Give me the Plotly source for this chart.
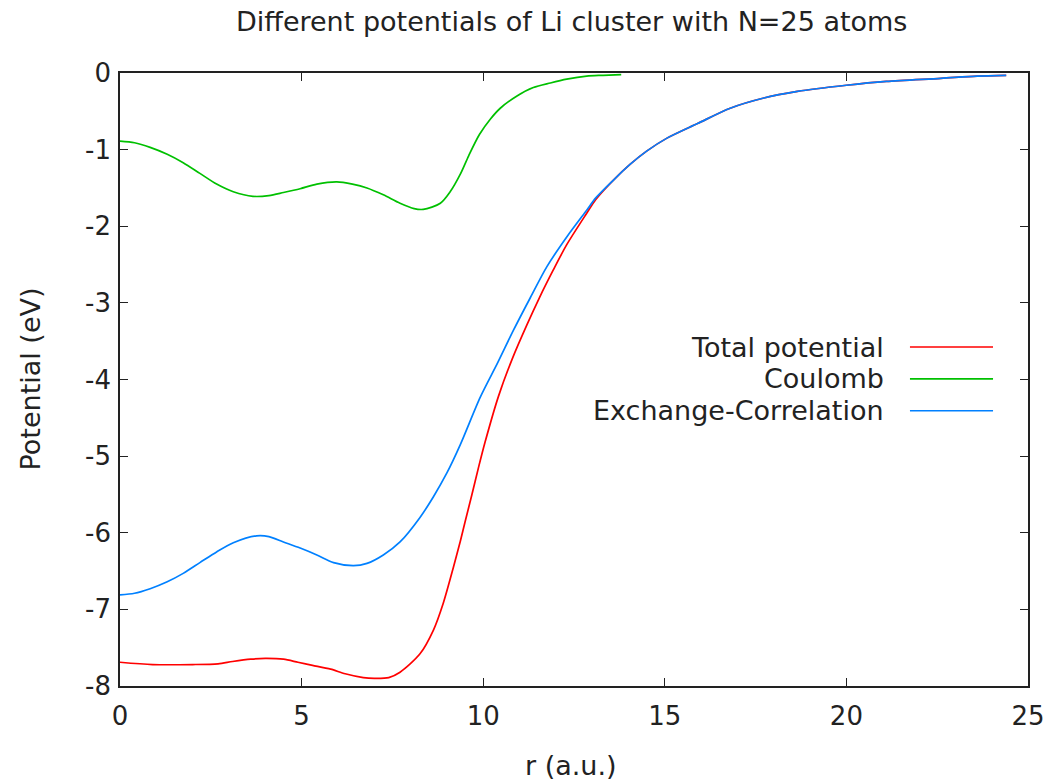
import plotly.graph_objects as go

# Total potential
r_total = [0, 0.9, 2.0, 2.7, 3.1, 3.6, 4.0, 4.5, 4.9, 5.3, 5.8, 6.2, 6.7, 7.0, 7.4, 7.71,
           8.26, 8.63, 8.9, 9.18, 9.37, 9.5, 9.69, 9.87, 10.05, 10.42, 10.8, 11.2, 11.55,
           11.93, 12.3, 12.85, 13.1, 13.58, 14.05, 14.5, 15.06, 15.9, 16.8, 17.7, 18.65,
           20.0, 21.1, 22.6, 23.6, 24.4]
v_total = [-7.69, -7.72, -7.72, -7.71, -7.68, -7.65, -7.64, -7.65, -7.69, -7.73, -7.78,
           -7.84, -7.89, -7.90, -7.89, -7.82, -7.58, -7.27, -6.92, -6.45, -6.11, -5.86,
           -5.50, -5.15, -4.82, -4.22, -3.73, -3.29, -2.93, -2.57, -2.24, -1.83, -1.65,
           -1.40, -1.19, -1.02, -0.85, -0.66, -0.46, -0.33, -0.24, -0.16, -0.11, -0.07,
           -0.04, -0.03]

# Coulomb potential
r_coul = [0, 0.4, 0.83, 1.3, 1.74, 2.2, 2.66, 3.12, 3.66, 4.1, 4.5, 4.96, 5.42, 5.97, 6.4,
          6.8, 7.25, 7.71, 8.1, 8.35, 8.82, 9.09, 9.37, 9.6, 9.9, 10.2, 10.47, 10.93,
          11.38, 11.85, 12.3, 12.85, 13.3, 13.8]
v_coul = [-0.89, -0.91, -0.97, -1.06, -1.17, -1.31, -1.45, -1.55, -1.61, -1.60, -1.56,
          -1.51, -1.45, -1.42, -1.45, -1.50, -1.59, -1.70, -1.77, -1.78, -1.70, -1.55,
          -1.32, -1.08, -0.80, -0.60, -0.46, -0.30, -0.19, -0.13, -0.08, -0.04, -0.03,
          -0.02]

# Exchange-Correlation potential
r_xc = [0, 0.4, 0.83, 1.3, 1.74, 2.2, 2.66, 3.12, 3.76, 4.1, 4.5, 4.96, 5.42, 5.88, 6.43,
        6.8, 7.25, 7.71, 8.26, 8.63, 9.0, 9.37, 9.92, 10.4, 10.83, 11.3, 11.75, 12.3,
        12.85, 13.1, 13.58, 14.05, 14.5, 15.06, 15.9, 16.8, 17.7, 18.65, 20.0, 21.1,
        22.6, 23.6, 24.4]
v_xc = [-6.81, -6.79, -6.73, -6.64, -6.53, -6.39, -6.25, -6.13, -6.04, -6.05, -6.12,
        -6.20, -6.29, -6.39, -6.43, -6.40, -6.29, -6.12, -5.80, -5.53, -5.22, -4.85,
        -4.23, -3.78, -3.36, -2.93, -2.53, -2.14, -1.79, -1.63, -1.40, -1.19, -1.02,
        -0.85, -0.66, -0.46, -0.33, -0.24, -0.16, -0.11, -0.07, -0.04, -0.03]

series_names = ["Total potential", "Coulomb", "Exchange-Correlation"]
colors = ["#ff0000", "#00c000", "#0080ff"]
x_ticks = [0, 5, 10, 15, 20, 25]
y_ticks = [0, -1, -2, -3, -4, -5, -6, -7, -8]

FONT = "DejaVu Sans"
FS = 27
FS_TICK = 26
TXT = "#222222"

fig = go.Figure()
for xs, ys, name, c in zip([r_total, r_coul, r_xc], [v_total, v_coul, v_xc],
                            series_names, colors):
    fig.add_trace(go.Scatter(x=xs, y=ys, mode="lines", name=name,
                             line=dict(color=c, width=1.7, shape="spline", smoothing=0.8),
                             showlegend=False))

# gnuplot-style legend (text right, sample line to the right)
legend_y = [0.553, 0.501, 0.449]
for name, c, ly in zip(series_names, colors, legend_y):
    fig.add_annotation(x=0.8436, y=ly, xref="paper", yref="paper", text=name,
                       showarrow=False, xanchor="right", yanchor="middle",
                       font=dict(family=FONT, size=FS, color=TXT))
    fig.add_shape(type="line", xref="paper", yref="paper", x0=0.870, x1=0.9615,
                  y0=ly, y1=ly, line=dict(color=c, width=1.7))

# title and axis labels
fig.add_annotation(x=0.4967, y=1.0832, xref="paper", yref="paper",
                   text="Different potentials of Li cluster with N=25 atoms",
                   showarrow=False, xanchor="center", yanchor="middle",
                   font=dict(family=FONT, size=FS, color=TXT))
fig.add_annotation(x=0.4967, y=-0.1289, xref="paper", yref="paper", text="r (a.u.)",
                   showarrow=False, xanchor="center", yanchor="middle",
                   font=dict(family=FONT, size=FS, color=TXT))
fig.add_annotation(x=-0.0991, y=0.5, xref="paper", yref="paper", text="Potential (eV)",
                   showarrow=False, xanchor="center", yanchor="middle", textangle=-90,
                   font=dict(family=FONT, size=FS, color=TXT))

axis_common = dict(showline=True, linecolor="#222", linewidth=1.5, mirror="ticks",
                   ticks="inside", ticklen=8, tickwidth=1.3, tickcolor="#222",
                   showgrid=False, zeroline=False, automargin=False,
                   tickfont=dict(family=FONT, size=FS_TICK, color=TXT))

fig.update_layout(
    width=1050, height=781,
    margin=dict(l=120, r=22, t=73, b=95, autoexpand=False),
    paper_bgcolor="white", plot_bgcolor="white",
    xaxis=dict(range=[0, 25], tickvals=x_ticks, ticktext=[str(v) for v in x_ticks],
               ticklabelstandoff=6, **axis_common),
    yaxis=dict(range=[-8, 0], tickvals=y_ticks, ticktext=[str(v) for v in y_ticks],
               ticklabelstandoff=2, **axis_common),
)

fig.write_html("out.html")
